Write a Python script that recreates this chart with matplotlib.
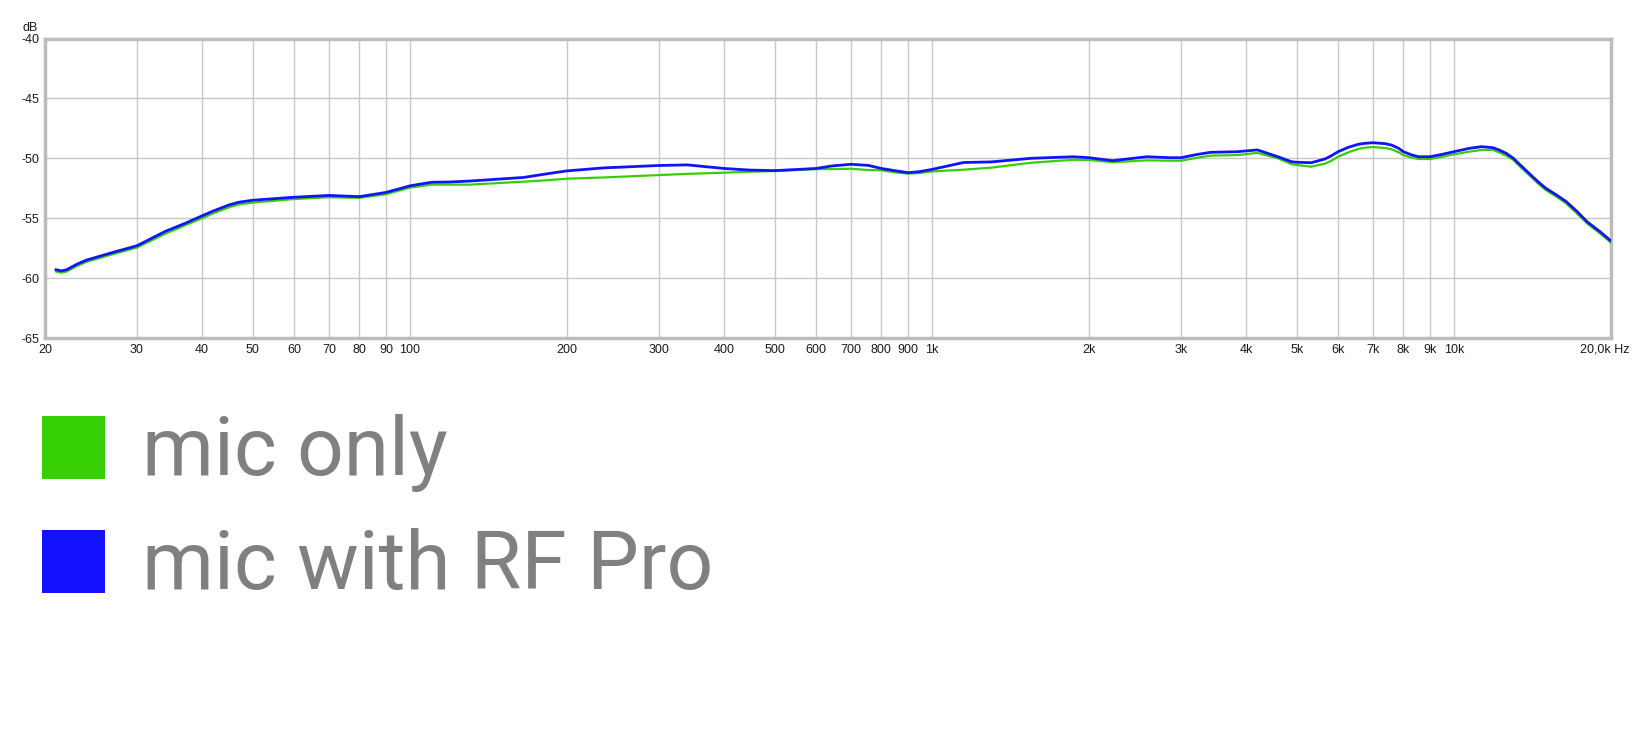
import matplotlib
matplotlib.use('Agg')
import matplotlib.pyplot as plt
from matplotlib.patches import Rectangle
from matplotlib.ticker import FixedLocator, NullLocator

# frequency points (Hz)
freq = [21, 21.5, 22, 23, 24, 27, 30, 34, 37, 40, 42, 45, 47, 50,
        60, 70, 80, 90, 100, 110, 119, 130, 165, 182, 200, 235, 300, 340,
        400, 447, 500, 600, 643, 700, 755, 800, 849, 900, 945, 1000,
        1150, 1300, 1550, 1870, 2000, 2220, 2580, 2860, 3000, 3230, 3420,
        3850, 4200, 4600, 4880, 5000, 5330, 5660, 5830, 6000, 6280, 6560,
        6760, 7000, 7390, 7600, 7840, 8000, 8320, 8560, 9000, 9500, 10000,
        10700, 11300, 11870, 12200, 12590, 13000, 13450, 14000, 14490,
        15000, 15720, 16400, 17180, 18000, 19060, 20000]

# levels in dB
mic_rf_pro = [-59.3, -59.4, -59.3, -58.85, -58.5, -57.85, -57.3, -56.1, -55.45,
              -54.8, -54.4, -53.9, -53.67, -53.5,
              -53.25, -53.1, -53.2, -52.85, -52.3, -52.0, -51.98, -51.9, -51.6,
              -51.31, -51.05, -50.8, -50.6, -50.55,
              -50.85, -50.98, -51.03, -50.85, -50.64, -50.5, -50.59, -50.85,
              -51.03, -51.2, -51.12, -50.93,
              -50.35, -50.3, -50.0, -49.87, -49.95, -50.2, -49.87, -49.95, -49.95,
              -49.67, -49.5,
              -49.45, -49.3, -49.87, -50.28, -50.33, -50.37, -50.06, -49.78,
              -49.45, -49.08, -48.83,
              -48.75, -48.7, -48.78, -48.9, -49.17, -49.45, -49.73, -49.87,
              -49.87, -49.67, -49.45,
              -49.17, -49.03, -49.11, -49.3, -49.58, -50.0, -50.62, -51.34, -51.95,
              -52.5, -53.06, -53.6, -54.4, -55.3, -56.13, -56.9]

mic_only = [-59.45, -59.55, -59.45, -59.0, -58.65, -58.0, -57.45, -56.3, -55.62,
            -55.0, -54.6, -54.1, -53.85, -53.7,
            -53.4, -53.25, -53.3, -53.0, -52.45, -52.2, -52.2, -52.2, -51.95,
            -51.84, -51.7, -51.6, -51.4, -51.3,
            -51.2, -51.12, -51.06, -50.9, -50.9, -50.87, -50.98, -51.0,
            -51.17, -51.28, -51.23, -51.1,
            -50.95, -50.78, -50.37, -50.12, -50.14, -50.33, -50.17, -50.2, -50.2,
            -49.95, -49.78,
            -49.73, -49.55, -50.0, -50.48, -50.56, -50.7, -50.45, -50.2,
            -49.87, -49.5, -49.22,
            -49.11, -49.06, -49.14, -49.25, -49.5, -49.73, -49.95, -50.06,
            -50.06, -49.87, -49.67,
            -49.45, -49.3, -49.3, -49.5, -49.78, -50.14, -50.78, -51.48, -52.09,
            -52.65, -53.2, -53.76, -54.57, -55.44, -56.27, -57.04]

xticks = [20, 30, 40, 50, 60, 70, 80, 90, 100, 200, 300, 400, 500, 600, 700,
          800, 900, 1000, 2000, 3000, 4000, 5000, 6000, 7000, 8000, 9000, 10000]
xlabels = ['20', '30', '40', '50', '60', '70', '80', '90', '100', '200', '300',
           '400', '500', '600', '700', '800', '900', '1k', '2k', '3k', '4k', '5k',
           '6k', '7k', '8k', '9k', '10k']
yticks = [-65, -60, -55, -50, -45, -40]

GREEN = '#36cf04'
BLUE = '#1212ff'
W, H = 1632, 742

fig = plt.figure(figsize=(W / 100, H / 100), dpi=100)
fig.patch.set_facecolor('white')

# axes box in pixels: left 45, right 1611, top 38.5, bottom 338
ax = fig.add_axes([45 / W, 1 - 338 / H, (1611 - 45) / W, (338 - 38.5) / H])
ax.set_xscale('log')
ax.set_xlim(20, 20000)
ax.set_ylim(-65, -40)

ax.plot(freq, mic_only, color=GREEN, lw=1.6, zorder=3, solid_joinstyle='round')
ax.plot(freq, mic_rf_pro, color=BLUE, lw=2.0, zorder=4, solid_joinstyle='round')

ax.xaxis.set_major_locator(FixedLocator(xticks))
ax.xaxis.set_minor_locator(NullLocator())
ax.set_xticklabels(xlabels)
ax.set_yticks(yticks)
ax.set_yticklabels([str(v) for v in yticks])
ax.grid(True, color='#c8c8c8', lw=1.0)
ax.set_axisbelow(True)
ax.tick_params(length=0, pad=4, labelsize=9, labelcolor='#1a1a1a')
for lab in ax.get_xticklabels() + ax.get_yticklabels():
    lab.set_fontfamily('Liberation Sans')
for sp in ax.spines.values():
    sp.set_color('#bcbcbc')
    sp.set_linewidth(2.5)

fig.text(38 / W, 1 - 28 / H, 'dB', ha='right', va='center', fontsize=9,
         family='Liberation Sans', color='#1a1a1a')
fig.text(1630 / W, 1 - 350 / H, '20,0k Hz', ha='right', va='center', fontsize=9,
         family='Liberation Sans', color='#1a1a1a')

# legend
for y0, col, label in [(416, GREEN, 'mic only'), (530, BLUE, 'mic with RF Pro')]:
    fig.add_artist(Rectangle((42 / W, 1 - (y0 + 63) / H), 63 / W, 63 / H,
                             transform=fig.transFigure, color=col, lw=0))
    fig.text(142 / W, 1 - (y0 + 59) / H, label, ha='left', va='baseline',
             fontsize=59, family='Roboto', color='#808080')

fig.savefig('out.png', dpi=100)
